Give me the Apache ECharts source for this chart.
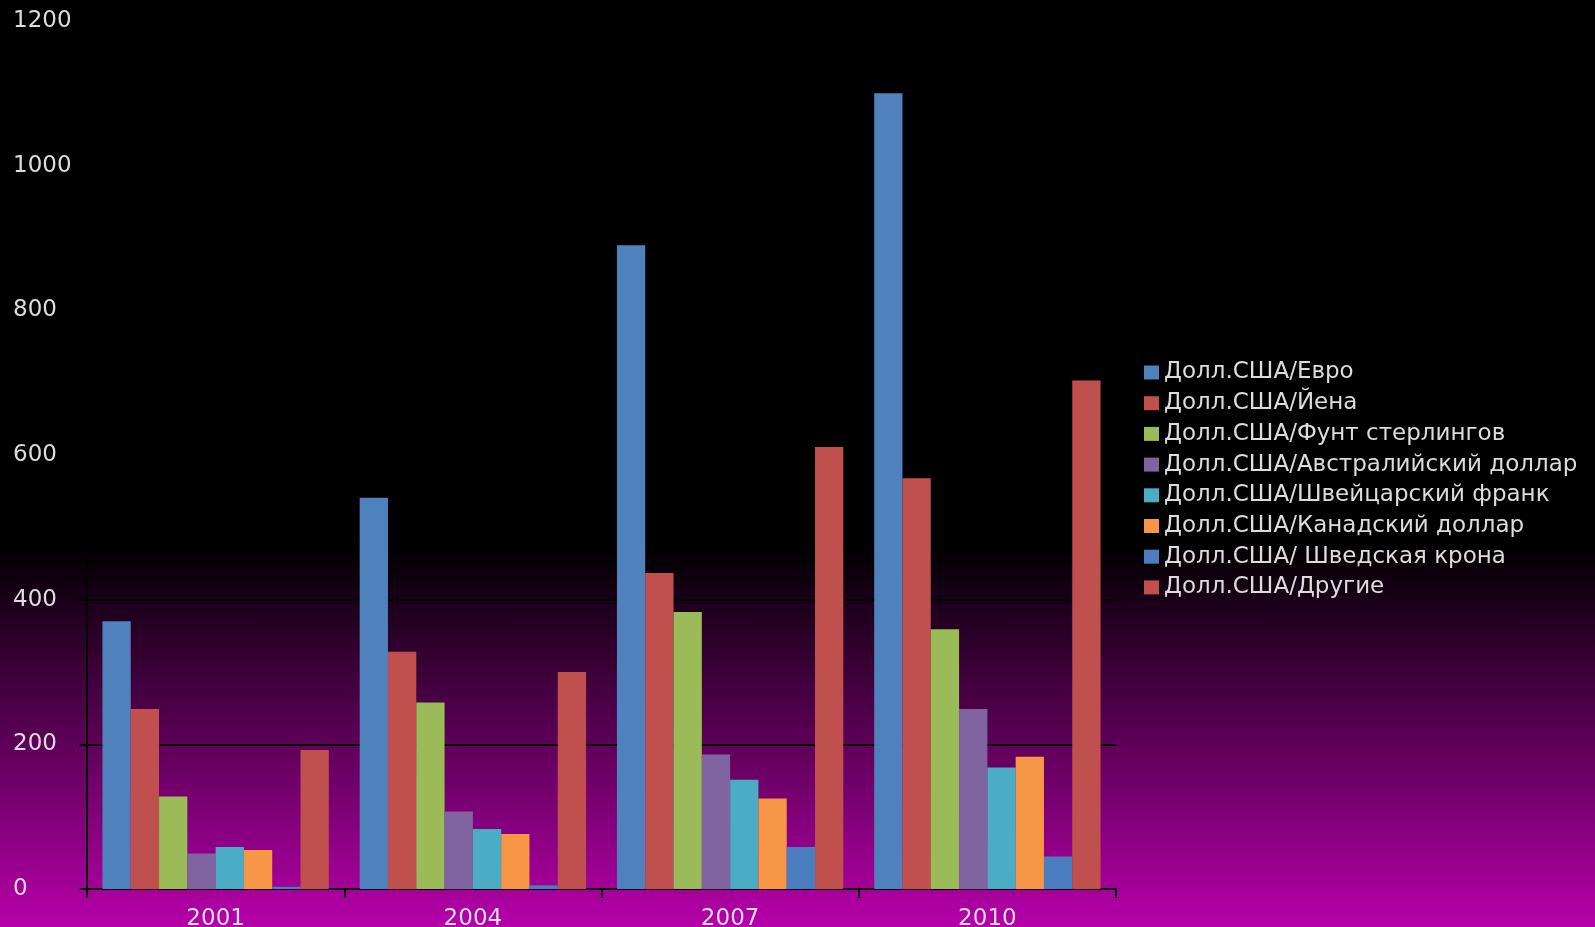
<!DOCTYPE html>
<html>
<head>
<meta charset="utf-8">
<script src="https://cdn.jsdelivr.net/npm/echarts@6/dist/echarts.min.js"></script>
<style>
  html, body { margin: 0; padding: 0; }
  #chart {
    width: 1595px; height: 927px;
    background: linear-gradient(to bottom, #000000 0%, #000000 59%, #b600aa 100%);
  }
</style>
</head>
<body>
<div id="chart"></div>
<script>
const years = ['2001', '2004', '2007', '2010'];
const seriesNames = [
  'Долл.США/Евро',
  'Долл.США/Йена',
  'Долл.США/Фунт стерлингов',
  'Долл.США/Австралийский доллар',
  'Долл.США/Швейцарский франк',
  'Долл.США/Канадский доллар',
  'Долл.США/ Шведская крона',
  'Долл.США/Другие'
];
const usdEur = [370, 541, 890, 1100];
const usdJpy = [249, 328, 437, 568];
const usdGbp = [128, 258, 383, 359];
const usdAud = [49, 107, 186, 249];
const usdChf = [58, 83, 151, 168];
const usdCad = [54, 76, 125, 183];
const usdSek = [3, 5, 58, 45];
const usdOther = [192, 300, 611, 703];
const yTicks = [0, 200, 400, 600, 800, 1000, 1200];

const colors = ['#4f81bd', '#c0504d', '#9bbb59', '#8064a2', '#4bacc6', '#f79646', '#4a7ec0', '#c0504d'];
const allData = [usdEur, usdJpy, usdGbp, usdAud, usdChf, usdCad, usdSek, usdOther];

const chart = echarts.init(document.getElementById('chart'));
const labelFont = 'DejaVu Sans';
chart.setOption({
  backgroundColor: 'transparent',
  animation: false,
  color: colors,
  grid: { left: 87, right: 479, top: 21, bottom: 38, containLabel: false, outerBoundsMode: 'none' },
  legend: {
    orient: 'vertical',
    left: 1139,
    top: 356,
    itemWidth: 15,
    itemHeight: 14,
    itemGap: 7.7,
    icon: 'rect',
    textStyle: { color: '#dcdcdc', fontSize: 23, lineHeight: 23, fontFamily: labelFont },
    data: seriesNames
  },
  xAxis: {
    type: 'category',
    data: years,
    axisLine: { show: true, lineStyle: { color: '#000', width: 2 } },
    axisTick: { show: true, length: 9, lineStyle: { color: '#000', width: 2 } },
    axisLabel: { color: '#dcdcdc', fontSize: 23, fontFamily: labelFont, margin: 19 }
  },
  yAxis: {
    type: 'value',
    min: 0,
    max: 1200,
    interval: 200,
    axisLine: { show: true, lineStyle: { color: '#000', width: 2 } },
    axisTick: { show: true, length: 8, lineStyle: { color: '#000', width: 2 } },
    axisLabel: {
      color: '#dcdcdc', fontSize: 23, fontFamily: labelFont, align: 'left', margin: 74,
      formatter: v => yTicks.includes(v) ? String(v) : ''
    },
    splitLine: { show: true, lineStyle: { color: '#000', width: 2 } }
  },
  series: seriesNames.map((name, i) => ({
    name,
    type: 'bar',
    data: allData[i],
    barGap: '0%',
    barCategoryGap: '12%',
    itemStyle: { color: colors[i] }
  }))
});
</script>
</body>
</html>
